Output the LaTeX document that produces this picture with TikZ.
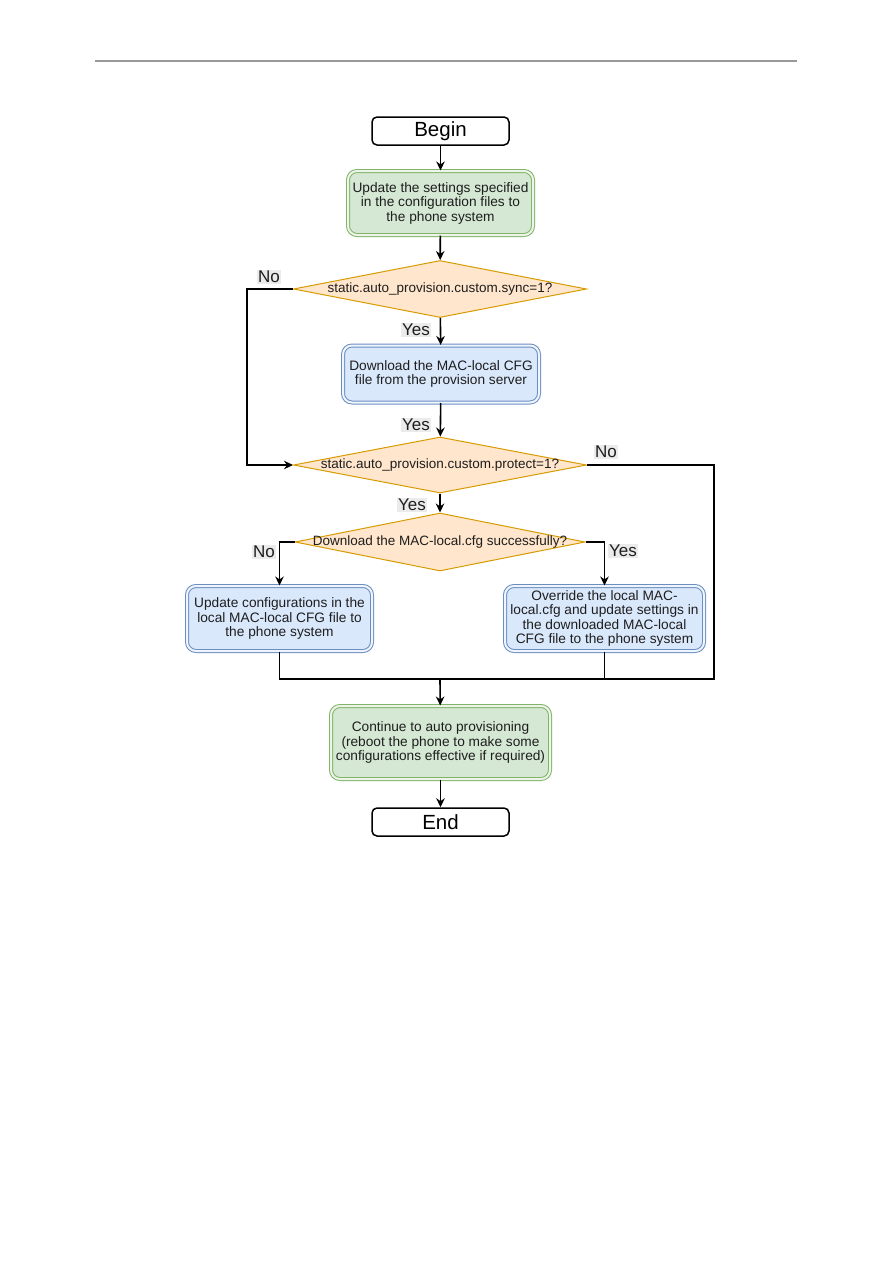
\documentclass[tikz,border=0pt]{standalone}
\usepackage{fontspec}
\setmainfont{Liberation Sans}
\usetikzlibrary{shapes.geometric,arrows.meta}
\definecolor{greenfill}{HTML}{D5E8D4}
\definecolor{greenline}{HTML}{82B366}
\definecolor{bluefill}{HTML}{DAE8FC}
\definecolor{blueline}{HTML}{6C8EBF}
\definecolor{orangefill}{HTML}{FFE6CC}
\definecolor{orangeline}{HTML}{D79B00}
\definecolor{labelgray}{HTML}{EBEBEB}
\definecolor{inkgray}{HTML}{1E1E1E}
\tikzset{
  terminal/.style={
    draw=black,
    line width=1.5pt,
    rounded corners=5pt,
    fill=white,
    inner sep=0pt,
    minimum width=137pt,
    minimum height=28pt,
    font=\fontsize{20.5}{23}\selectfont
  },
  stepgreen/.style={
    draw=greenline,
    double=greenfill!45!white,
    double distance=2pt,
    line width=1pt,
    fill=greenfill,
    rounded corners=9pt,
    inner sep=0pt,
    align=center,
    text=inkgray,
    font=\fontsize{13.7}{14.5}\selectfont
  },
  stepblue/.style={
    stepgreen,
    draw=blueline,
    double=bluefill!45!white,
    fill=bluefill
  },
  decision/.style={
    diamond,
    aspect=5,
    draw=orangeline,
    line width=1pt,
    fill=orangefill,
    inner xsep=-20pt,
    inner ysep=0pt,
    text=inkgray,
    font=\fontsize{13.5}{14.5}\selectfont
  },
  answer/.style={
    fill=labelgray,
    inner xsep=1.5pt,
    inner ysep=1pt,
    text=inkgray,
    font=\fontsize{17}{19}\selectfont
  },
  flow/.style={
    line width=1.6pt,
    draw=black
  },
  arrow/.style={
    flow,
    -{Stealth[length=9pt,width=8.5pt]}
  }
}

\begin{document}
\begin{tikzpicture}[x=1pt,y=-1pt]
    \useasboundingbox (0,0) rectangle (893,1263);
    % page rule
    \draw[gray!80, line width=1.8pt] (95,61) -- (797,61);

    \node[terminal] (begin) at (440.5,131) {Begin};
    \node[stepgreen, minimum width=185pt, minimum height=64pt] (update) at (440.5,203)
        {Update the settings specified\\in the configuration files to\\the phone system};
    \node[decision, minimum width=293pt, minimum height=57pt] (sync) at (440,289)
        {static.auto\_provision.custom.sync=1?};
    \node[stepblue, minimum width=196pt, minimum height=57pt] (download) at (441,374)
        {Download the MAC-local CFG\\file from the provision server};
    \node[decision, minimum width=293pt, minimum height=56pt] (protect) at (440,465)
        {static.auto\_provision.custom.protect=1?};
    \node[decision, minimum width=290pt, minimum height=58pt] (success) at (440,542)
        {Download the MAC-local.cfg successfully?};
    \node[stepblue, minimum width=185pt, minimum height=65pt] (local) at (279.5,618.5)
        {Update configurations in the\\local MAC-local CFG file to\\the phone system};
    \node[stepblue, minimum width=199pt, minimum height=65pt] (override) at (604.5,618.5)
        {Override the local MAC-\\local.cfg and update settings in\\the downloaded MAC-local\\CFG file to the phone system};
    \node[stepgreen, minimum width=219pt, minimum height=73pt] (continue) at (440.5,742.5)
        {Continue to auto provisioning\\(reboot the phone to make some\\configurations effective if required)};
    \node[terminal] (end) at (440.5,822) {End};

    \coordinate (syncno) at (247,289);
    \coordinate (protectno) at (714,679);
    \coordinate (join) at (440,679);

    % answers
    \node[answer] (no1) at (269,277) {No};
    \node[answer] (yes1) at (416,330) {Yes};
    \node[answer] (yes2) at (416,425) {Yes};
    \node[answer] (no2) at (606,452) {No};
    \node[answer] (yes3) at (412,505) {Yes};
    \node[answer] (no3) at (264,552) {No};
    \node[answer] (yes4) at (623,551) {Yes};

    \draw[arrow] (begin) -- (update);
    \draw[arrow] (update) -- (sync);
    \draw[arrow] (sync) -- (download);
    \draw[arrow] (sync.west) -- (syncno) |- (protect.west);
    \draw[arrow] (download) -- (protect);
    \draw[arrow] (protect) -- (success);
    \draw[flow] (protect.east) -| (protectno) -- (join);
    \draw[arrow] (success.west) -| (local.north);
    \draw[arrow] (success.east) -| (override.north);
    \draw[flow] (local.south) |- (join);
    \draw[flow] (override.south) |- (join);
    \draw[arrow] (join) -- (continue);
    \draw[arrow] (continue) -- (end);
\end{tikzpicture}
\end{document}
